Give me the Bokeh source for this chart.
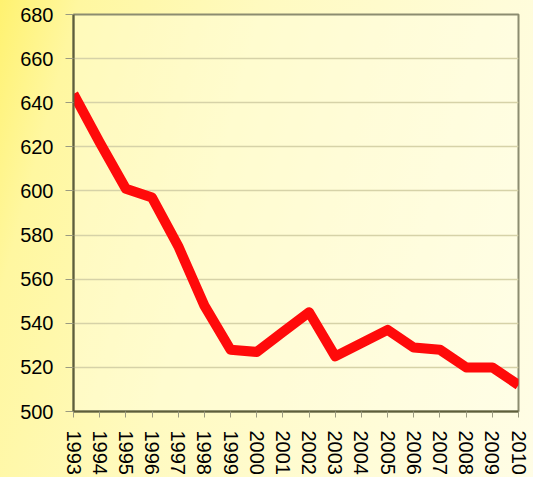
import math
from bokeh.plotting import figure
from bokeh.models import Range1d, FixedTicker
from bokeh.embed import file_html
from bokeh.resources import INLINE

years = [1993, 1994, 1995, 1996, 1997, 1998, 1999, 2000, 2001,
         2002, 2003, 2004, 2005, 2006, 2007, 2008, 2009, 2010]
values = [644, 622, 601, 597, 575, 548, 528, 527, 536,
          545, 525, 531, 537, 529, 528, 520, 520, 512]
y_ticks = [500, 520, 540, 560, 580, 600, 620, 640, 660, 680]

p = figure(width=533, height=477, output_backend="svg", toolbar_location=None,
           x_range=Range1d(years[0], years[-1]), y_range=Range1d(500, 680),
           min_border_left=73, min_border_right=15, min_border_top=14, min_border_bottom=66)

p.styles = {"background": "linear-gradient(105deg, #FFF270 0%, #FFF7A0 12%, #FFFAC0 40%, #FFFCD8 75%, #FFFDE6 100%)"}
p.border_fill_color = None
p.background_fill_color = "#FFFEEA"
p.background_fill_alpha = 0.35
p.outline_line_color = "#8C8C70"
p.outline_line_width = 2

p.line(years, values, line_color="#FF0A0A", line_width=10, line_join="round")

p.xaxis.ticker = FixedTicker(ticks=years)
p.xaxis.major_label_overrides = {y: str(y) for y in years}
p.xaxis.major_label_orientation = -math.pi / 2
p.yaxis.ticker = FixedTicker(ticks=y_ticks)

for ax in (p.xaxis, p.yaxis):
    ax.axis_line_color = "#5E5E3A"
    ax.axis_line_width = 2
    ax.major_tick_line_color = "#9A9A80"
    ax.major_tick_in = 0
    ax.minor_tick_line_color = None
    ax.major_label_text_font = "Liberation Sans"
    ax.major_label_text_font_size = "20px"
    ax.major_label_text_color = "#000000"

p.xaxis.major_tick_out = 6
p.yaxis.major_tick_out = 8
p.xaxis.major_label_standoff = 13
p.yaxis.major_label_standoff = 12

p.xgrid.grid_line_color = None
p.ygrid.grid_line_color = "#D6D2A8"
p.ygrid.grid_line_width = 1.5

open("out.html", "w").write(file_html(p, INLINE))
